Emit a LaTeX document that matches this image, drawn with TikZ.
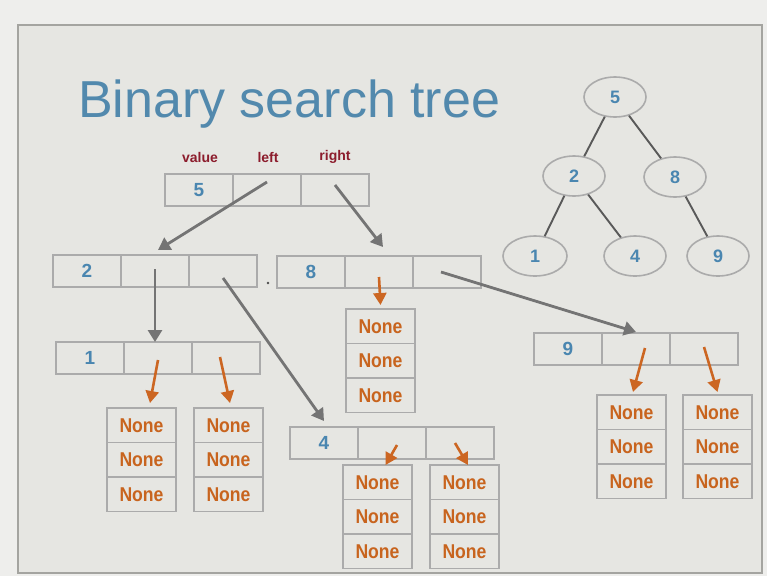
\documentclass[tikz,border=0pt]{standalone}
\usepackage{fontspec}
\setmainfont{Liberation Sans}
\usetikzlibrary{arrows.meta,shapes.geometric}
\definecolor{outerbg}{HTML}{EEEEEC}
\definecolor{innerbg}{HTML}{E6E6E2}
\definecolor{framecol}{HTML}{A4A4A0}
\definecolor{cellgray}{HTML}{ABABAB}
\definecolor{numblue}{HTML}{4A86B0}
\definecolor{titleblue}{HTML}{5289AD}
\definecolor{hdrred}{HTML}{8C1C2C}
\definecolor{arrgray}{HTML}{747474}
\definecolor{arrorange}{HTML}{CC6622}
\definecolor{nonecol}{HTML}{C8641E}
\tikzset{
  cell/.style={draw=cellgray, line width=1.5pt, minimum width=68pt, minimum height=32pt,
    inner sep=0pt, outer sep=0pt, text=numblue, font=\bfseries\fontsize{19}{19}\selectfont},
  nonecell/.style={draw=cellgray, line width=1.5pt, minimum width=69pt, minimum height=34.5pt,
    inner sep=0pt, outer sep=0pt, text=nonecol, font=\bfseries\fontsize{20}{20}\selectfont},
  hdr/.style={text=hdrred, font=\bfseries\fontsize{14}{14}\selectfont, inner sep=0pt},
  garrow/.style={draw=arrgray, line width=2.8pt, -{Triangle[length=12pt,width=14pt]}},
  oarrow/.style={draw=arrorange, line width=2.6pt, -{Triangle[length=12pt,width=13pt]}},
  tnode/.style={ellipse, draw=cellgray, line width=1.6pt, minimum width=62pt, minimum height=40pt,
    inner sep=0pt, text=numblue, font=\bfseries\fontsize{18}{18}\selectfont},
  tedge/.style={draw=black!65, line width=1.9pt}
}
\newcommand\None{\scalebox{0.88}[1]{None}}
\newcommand\rec[4]{%
  \node[cell,anchor=north west] (#1v) at (#2,#3) {#4};
  \node[cell,anchor=west] (#1l) at (#1v.east) {};
  \node[cell,anchor=west] (#1r) at (#1l.east) {};}
\newcommand\nonestack[3]{%
  \node[nonecell,anchor=north west] (#1a) at (#2,#3) {\None};
  \node[nonecell,anchor=north] (#1b) at (#1a.south) {\None};
  \node[nonecell,anchor=north] (#1c) at (#1b.south) {\None};}
\begin{document}
\begin{tikzpicture}[x=1pt,y=-1pt]
\useasboundingbox (0,0) rectangle (767,576);
\fill[outerbg] (0,0) rectangle (767,576);
\draw[framecol, line width=1.5pt, fill=innerbg] (18,25) rectangle (762,573);

\node[anchor=base west, text=titleblue, inner sep=0pt, font=\fontsize{52}{52}\selectfont] (title) at (78,117) {Binary search tree};

\node[hdr] (hv) at (200,157) {value};
\node[hdr] (hl) at (268,157) {left};
\node[hdr] (hr) at (335,157) {right};

\rec{rfive}{165}{174}{5}
\rec{rtwo}{53}{255}{2}
\rec{reight}{277}{256}{8}
\rec{rone}{56}{342}{1}
\rec{rfour}{290}{427}{4}
\rec{rnine}{534}{333}{9}

\node[circle, fill=black!70, inner sep=0pt, minimum size=2.6pt] (dot) at (268,283) {};

\nonestack{naone}{107}{408}
\nonestack{nbone}{194}{408}
\nonestack{neight}{346}{309}
\nonestack{nafour}{343}{465}
\nonestack{nbfour}{430}{465}
\nonestack{nanine}{597}{395}
\nonestack{nbnine}{683}{395}

% gray pointers
\draw[garrow] ([yshift=8pt]rfivel.center) -- ([xshift=3pt,yshift=5pt]rtwol.north);
\draw[garrow] ([yshift=5pt]rfiver.center) -- ([xshift=4pt,yshift=9pt]reightl.north);
\draw[garrow] ([yshift=2pt]rtwol.center) -- (rtwol.center |- ronel.north);
\draw[garrow] ([yshift=-7pt]rtwor.center) -- ([yshift=6pt]rfourv.north);
\draw[garrow] ([xshift=-6pt]reightr.center) -- ([yshift=1pt]rninel.north);

% orange pointers
\draw[oarrow] ([yshift=-2pt]ronel.center) -- ([xshift=8.5pt,yshift=5pt]naonea.north);
\draw[oarrow] ([xshift=-6pt,yshift=1pt]roner.center) -- ([xshift=1.5pt,yshift=5pt]nbonea.north);
\draw[oarrow] ([yshift=-5pt]reightl.center) -- ([yshift=4pt]neighta.north);
\draw[oarrow] ([xshift=5pt,yshift=-2pt]rfourl.center) -- ([xshift=8pt]nafoura.north);
\draw[oarrow] ([xshift=-5pt]rfourr.center) -- ([xshift=3.5pt]nbfoura.north);
\draw[oarrow] ([xshift=9pt,yshift=1pt]rninel.center) -- ([xshift=1.5pt,yshift=3pt]naninea.north);
\draw[oarrow] ([yshift=2pt]rniner.center) -- ([yshift=3pt]nbninea.north);

% small tree
\node[tnode] (tfive) at (615,97) {5};
\node[tnode] (ttwo) at (574,176) {2};
\node[tnode] (teight) at (675,177) {8};
\node[tnode, minimum width=64pt] (tone) at (535,256) {1};
\node[tnode] (tfour) at (635,256) {4};
\node[tnode] (tnine) at (718,256) {9};
\draw[tedge] (tfive) -- (ttwo);
\draw[tedge] (tfive) -- (teight);
\draw[tedge] (ttwo) -- (tone);
\draw[tedge] (ttwo) -- (tfour);
\draw[tedge] (teight) -- (tnine);
\end{tikzpicture}
\end{document}
